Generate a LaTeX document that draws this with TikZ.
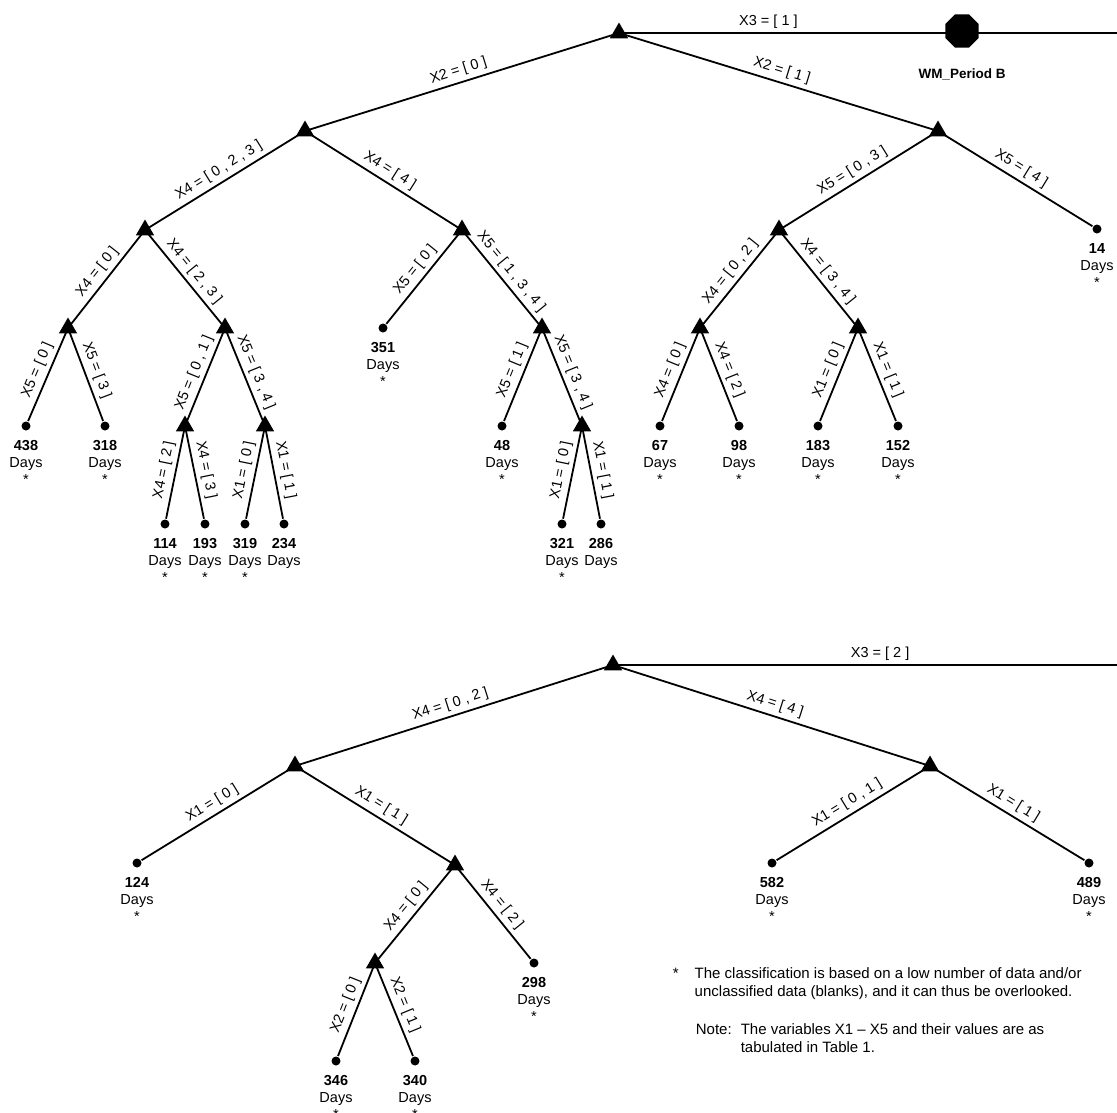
\documentclass[tikz,border=0pt]{standalone}
\usepackage{fontspec}
\setmainfont{Liberation Sans}
\usetikzlibrary{shapes.geometric,positioning}

\begin{document}
\begin{tikzpicture}[x=1pt,y=-1pt,line width=1.8pt,
split/.style={regular polygon,regular polygon sides=3,fill,inner sep=0pt,minimum size=21pt},
leaf/.style={circle,fill,inner sep=0pt,minimum size=9pt},
stopsign/.style={regular polygon,regular polygon sides=8,fill,inner sep=0pt,minimum size=36pt},
lbl/.style={sloped,above,midway,inner sep=4pt,font=\fontsize{14.5}{17}\selectfont},
days/.style={align=center,inner sep=0pt,font=\fontsize{14.5}{17}\selectfont},
note/.style={inner sep=0pt,font=\fontsize{15}{18}\selectfont}]

\useasboundingbox (0,0) rectangle (1117,1112);

% upper tree, X3 = 1
\node[split](a) at(619,33) {};
\node[stopsign](wm) at(962,31) {};
\node[font=\bfseries\fontsize{13.5}{15}\selectfont](wmlbl) at(962,74) {WM\_Period B};
\coordinate(x3a) at(1117,33);
\node[split](b) at(305,131) {};
\node[split](c) at(938,131) {};
\node[split](d) at(145,230) {};
\node[split](e) at(462,230) {};
\node[split](f) at(68,328) {};
\node[split](g) at(225,328) {};
\node[split](h) at(185,426) {};
\node[split](i) at(265,426) {};
\node[split](j) at(542,328) {};
\node[split](k) at(582,426) {};
\node[split](l) at(779,230) {};
\node[split](m) at(700,328) {};
\node[split](n) at(858,328) {};

\node[leaf](v438) at(26,426) {};  \node[days,below=8pt of v438](t438) {\textbf{438}\\Days\\*};
\node[leaf](v318) at(105,426) {}; \node[days,below=8pt of v318](t318) {\textbf{318}\\Days\\*};
\node[leaf](v114) at(165,524) {}; \node[days,below=8pt of v114](t114) {\textbf{114}\\Days\\*};
\node[leaf](v193) at(205,524) {}; \node[days,below=8pt of v193](t193) {\textbf{193}\\Days\\*};
\node[leaf](v319) at(245,524) {}; \node[days,below=8pt of v319](t319) {\textbf{319}\\Days\\*};
\node[leaf](v234) at(284,524) {}; \node[days,below=8pt of v234](t234) {\textbf{234}\\Days};
\node[leaf](v351) at(383,328) {}; \node[days,below=8pt of v351](t351) {\textbf{351}\\Days\\*};
\node[leaf](v48) at(502,426) {};  \node[days,below=8pt of v48](t48) {\textbf{48}\\Days\\*};
\node[leaf](v321) at(562,524) {}; \node[days,below=8pt of v321](t321) {\textbf{321}\\Days\\*};
\node[leaf](v286) at(601,524) {}; \node[days,below=8pt of v286](t286) {\textbf{286}\\Days};
\node[leaf](v14) at(1097,229) {}; \node[days,below=8pt of v14](t14) {\textbf{14}\\Days\\*};
\node[leaf](v67) at(660,426) {};  \node[days,below=8pt of v67](t67) {\textbf{67}\\Days\\*};
\node[leaf](v98) at(739,426) {};  \node[days,below=8pt of v98](t98) {\textbf{98}\\Days\\*};
\node[leaf](v183) at(818,426) {}; \node[days,below=8pt of v183](t183) {\textbf{183}\\Days\\*};
\node[leaf](v152) at(898,426) {}; \node[days,below=8pt of v152](t152) {\textbf{152}\\Days\\*};

\draw (a.center) -- (x3a) node[lbl,pos=.3]{X3 = [ 1 ]};
\draw
(a.center) -- (b.center) node[lbl]{X2 = [ 0 ]}
(a.center) -- (c.center) node[lbl]{X2 = [ 1 ]}
(b.center) -- (d.center) node[lbl]{X4 = [ 0 , 2 , 3 ]}
(b.center) -- (e.center) node[lbl]{X4 = [ 4 ]}
(d.center) -- (f.center) node[lbl]{X4 = [ 0 ]}
(d.center) -- (g.center) node[lbl]{X4 = [ 2 , 3 ]}
(f.center) -- (v438) node[lbl]{X5 = [ 0 ]}
(f.center) -- (v318) node[lbl]{X5 = [ 3 ]}
(g.center) -- (h.center) node[lbl]{X5 = [ 0 , 1 ]}
(g.center) -- (i.center) node[lbl]{X5 = [ 3 , 4 ]}
(h.center) -- (v114) node[lbl]{X4 = [ 2 ]}
(h.center) -- (v193) node[lbl]{X4 = [ 3 ]}
(i.center) -- (v319) node[lbl]{X1 = [ 0 ]}
(i.center) -- (v234) node[lbl]{X1 = [ 1 ]}
(e.center) -- (v351) node[lbl]{X5 = [ 0 ]}
(e.center) -- (j.center) node[lbl]{X5 = [ 1 , 3 , 4 ]}
(j.center) -- (v48) node[lbl]{X5 = [ 1 ]}
(j.center) -- (k.center) node[lbl]{X5 = [ 3 , 4 ]}
(k.center) -- (v321) node[lbl]{X1 = [ 0 ]}
(k.center) -- (v286) node[lbl]{X1 = [ 1 ]}
(c.center) -- (l.center) node[lbl]{X5 = [ 0 , 3 ]}
(c.center) -- (v14) node[lbl]{X5 = [ 4 ]}
(l.center) -- (m.center) node[lbl]{X4 = [ 0 , 2 ]}
(l.center) -- (n.center) node[lbl]{X4 = [ 3 , 4 ]}
(m.center) -- (v67) node[lbl]{X4 = [ 0 ]}
(m.center) -- (v98) node[lbl]{X4 = [ 2 ]}
(n.center) -- (v183) node[lbl]{X1 = [ 0 ]}
(n.center) -- (v152) node[lbl]{X1 = [ 1 ]}
;

% lower tree, X3 = 2
\node[split](p) at(613,665) {};
\coordinate(x3b) at(1117,665);
\node[split](q) at(295,766) {};
\node[split](r) at(930,766) {};
\node[split](s) at(455,865) {};
\node[split](t) at(375,963) {};

\node[leaf](v124) at(137,863) {};  \node[days,below=8pt of v124](t124) {\textbf{124}\\Days\\*};
\node[leaf](v298) at(534,963) {};  \node[days,below=8pt of v298](t298) {\textbf{298}\\Days\\*};
\node[leaf](v346) at(336,1061) {}; \node[days,below=8pt of v346](t346) {\textbf{346}\\Days\\*};
\node[leaf](v340) at(415,1061) {}; \node[days,below=8pt of v340](t340) {\textbf{340}\\Days\\*};
\node[leaf](v582) at(772,863) {};  \node[days,below=8pt of v582](t582) {\textbf{582}\\Days\\*};
\node[leaf](v489) at(1089,863) {}; \node[days,below=8pt of v489](t489) {\textbf{489}\\Days\\*};

\draw (p.center) -- (x3b) node[lbl,pos=.53]{X3 = [ 2 ]};
\draw
(p.center) -- (q.center) node[lbl]{X4 = [ 0 , 2 ]}
(p.center) -- (r.center) node[lbl]{X4 = [ 4 ]}
(q.center) -- (v124) node[lbl]{X1 = [ 0 ]}
(q.center) -- (s.center) node[lbl]{X1 = [ 1 ]}
(s.center) -- (t.center) node[lbl]{X4 = [ 0 ]}
(s.center) -- (v298) node[lbl]{X4 = [ 2 ]}
(t.center) -- (v346) node[lbl]{X2 = [ 0 ]}
(t.center) -- (v340) node[lbl]{X2 = [ 1 ]}
(r.center) -- (v582) node[lbl]{X1 = [ 0 , 1 ]}
(r.center) -- (v489) node[lbl]{X1 = [ 1 ]}
;

% footnotes
\node[note,anchor=north west](fn) at(672,965) {\begin{tabular}{@{}l@{\hspace{16pt}}l@{}}
* & The classification is based on a low number of data and/or\\
  & unclassified data (blanks), and it can thus be overlooked.
\end{tabular}};
\node[note,anchor=north west](nt) at(695,1021) {\begin{tabular}{@{}l@{\hspace{9pt}}l@{}}
Note: & The variables X1 \textendash{} X5 and their values are as\\
      & tabulated in Table 1.
\end{tabular}};

\end{tikzpicture}
\end{document}
